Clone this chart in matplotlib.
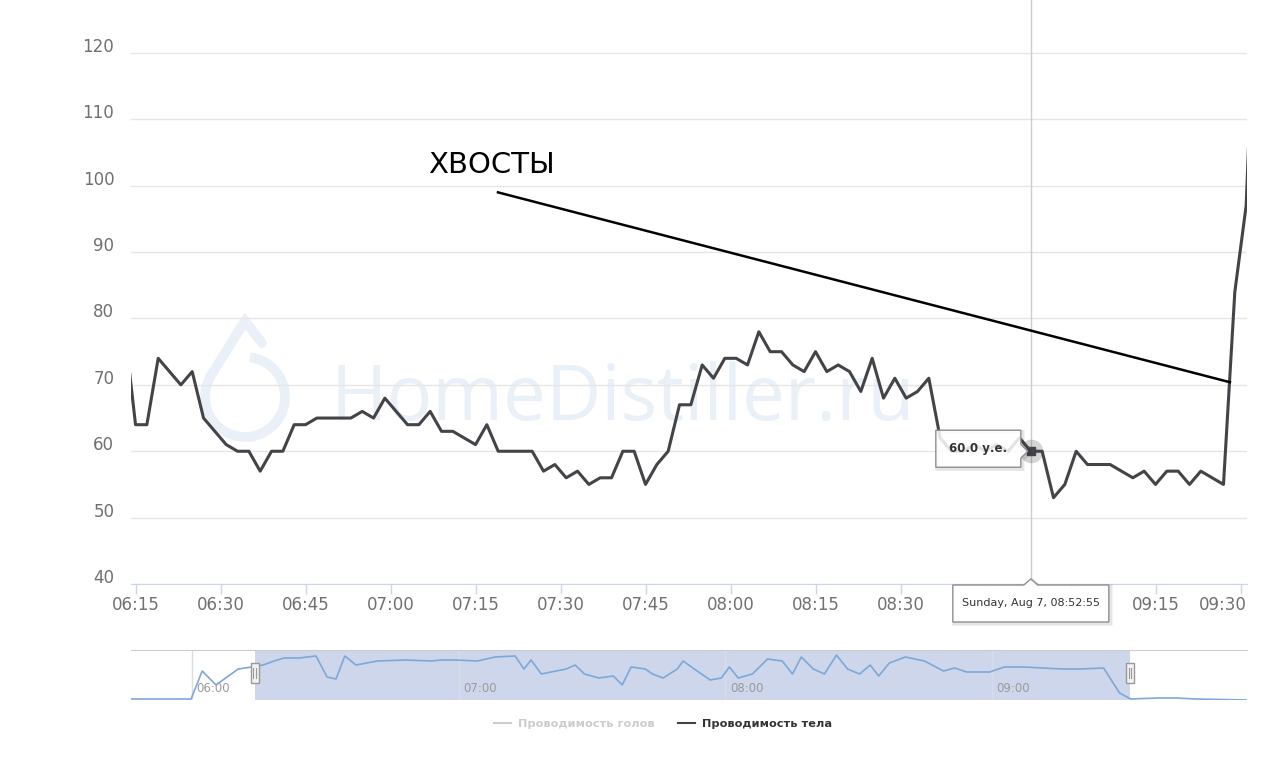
import numpy as np
import pandas as pd
import matplotlib
matplotlib.use("Agg")
import matplotlib.pyplot as plt
import matplotlib.dates as mdates
from matplotlib.patches import Arc, Polygon, Rectangle
from matplotlib.lines import Line2D
from matplotlib.transforms import ScaledTranslation

W, H = 1280, 759

# body conductivity, one reading every 2 minutes
body_start = "2016-08-07 06:12:55"
body_values = [79, 64, 64, 74, 72, 70, 72, 65, 63, 61, 60, 60, 57, 60, 60, 64, 64, 65, 65, 65,
               65, 66, 65, 68, 66, 64, 64, 66, 63, 63, 62, 61, 64, 60, 60, 60, 60, 57, 58, 56,
               57, 55, 56, 56, 60, 60, 55, 58, 60, 67, 67, 73, 71, 74, 74, 73, 78, 75, 75, 73,
               72, 75, 72, 73, 72, 69, 74, 68, 71, 68, 69, 71, 62, 60, 60, 61, 60, 61, 60, 62,
               60, 60, 53, 55, 60, 58, 58, 58, 57, 56, 57, 55, 57, 57, 55, 57, 56, 55, 84, 97, 140]

view_start = "2016-08-07 06:14:07"
view_end = "2016-08-07 09:31:04"
y_ticks = [40, 50, 60, 70, 80, 90, 100, 110, 120]
y_top = 127.98
x_ticks = ["06:15", "06:30", "06:45", "07:00", "07:15", "07:30", "07:45",
           "08:00", "08:15", "08:30", "08:45", "09:00", "09:15", "09:30"]
# 08:45 and 09:00 sit under the time tooltip
x_tick_labels = ["06:15", "06:30", "06:45", "07:00", "07:15", "07:30", "07:45",
                 "08:00", "08:15", "08:30", "", "", "09:15", "09:30"]

hover_time = "2016-08-07 08:52:55"
hover_value = 60.0
hover_value_text = "60.0 у.е."
hover_time_text = "Sunday, Aug 7, 08:52:55"

note_text = "ХВОСТЫ"
note_pos = ("2016-08-07 07:17:39", 103.1)
note_line_from = ("2016-08-07 07:18:53", 99.0)
note_line_to = ("2016-08-07 09:28:03", 70.4)

# navigator (whole session, minutes after 06:00)
nav_minutes = [-13.7, -0.2, 2.3, 5.4, 10.4, 13.5, 16.0, 18.5, 20.7, 24.1, 27.9, 30.4, 32.4,
               34.4, 36.9, 41.7, 48.2, 53.8, 56.1, 59.4, 64.2, 68.2, 72.7, 74.7, 76.3, 78.6,
               84.2, 86.2, 88.3, 91.6, 94.8, 96.8, 98.8, 102.0, 103.6, 106.0, 109.2, 110.5,
               113.0, 116.6, 119.1, 120.9, 122.9, 126.1, 129.5, 132.8, 135.1, 137.1, 139.8,
               142.3, 145.0, 147.5, 150.2, 152.6, 154.5, 156.9, 160.5, 164.8, 169.1, 171.6,
               174.3, 179.4, 182.8, 187.1, 191.4, 195.7, 199.9, 205.1, 208.7, 211.2, 217.3,
               221.5, 225.8, 237.4]
nav_level = [1, 1, 29, 15, 31, 33, 35, 39, 42, 42, 44, 23, 21, 44, 35, 39, 40, 39, 40, 40,
             39, 43, 44, 31, 40, 26, 31, 35, 26, 22, 24, 15, 33, 31, 26, 22, 31, 39, 31, 20,
             22, 33, 22, 26, 41, 39, 26, 43, 31, 26, 45, 31, 26, 35, 24, 37, 43, 39, 29, 32,
             28, 28, 33, 33, 32, 31, 31, 32, 7, 1, 2, 2, 1, 0]
nav_start = "2016-08-07 05:46:17"
nav_end = "2016-08-07 09:57:22"
nav_hours = ["06:00", "07:00", "08:00", "09:00"]

legend_labels = ["Проводимость голов", "Проводимость тела"]

day = "2016-08-07 "
times = pd.date_range(body_start, periods=len(body_values), freq="2min")
t = pd.Timestamp

fig = plt.figure(figsize=(W / 100, H / 100), dpi=100)
fig.patch.set_facecolor("white")

# background layer: watermark
bg = fig.add_axes([0, 0, 1, 1], zorder=0)
bg.set_xlim(0, W)
bg.set_ylim(H, 0)
bg.axis("off")
wm = "#e9f0f8"
bg.text(330, 420, "HomeDistiller.ru", fontsize=55, color=wm, family="Open Sans",
        ha="left", va="baseline")
bg.add_patch(Arc((245, 397), 80, 80, theta1=-443, theta2=-150, color=wm, lw=7))
bg.plot([210, 245, 262], [377, 321, 343], color=wm, lw=7, solid_joinstyle="miter",
        solid_capstyle="round")

# main chart
ax = fig.add_axes([131 / W, (H - 584) / H, 1116 / W, 584 / H], zorder=1)
ax.patch.set_alpha(0)
ax.plot(times, body_values, color="#434348", lw=2.2, solid_joinstyle="round", zorder=3)
ax.set_xlim(t(view_start), t(view_end))
ax.set_ylim(y_ticks[0], y_top)
ax.set_yticks(y_ticks)
ax.grid(axis="y", color="#e6e6e6", lw=1)
ax.set_axisbelow(True)
ax.tick_params(axis="y", length=0, pad=12, labelsize=12, labelcolor="#707070")
ax.set_xticks([t(day + s) for s in x_ticks])
ax.set_xticklabels(x_tick_labels)
ax.tick_params(axis="x", length=7.2, width=1, color="#ccd6eb", pad=1.5,
               labelsize=12, labelcolor="#707070")
for s in ["top", "left", "right"]:
    ax.spines[s].set_visible(False)
ax.spines["bottom"].set_color("#ccd6eb")
for lbl in ax.get_yticklabels():
    lbl.set_transform(lbl.get_transform() + ScaledTranslation(0, 0.08, fig.dpi_scale_trans))
last = ax.get_xticklabels()[-1]
last.set_horizontalalignment("right")
last.set_transform(last.get_transform() + ScaledTranslation(0.06, 0, fig.dpi_scale_trans))

ax.axvline(t(hover_time), color="#cccccc", lw=1, zorder=2)
ax.plot([t(hover_time)], [hover_value], "o", ms=17, color="#434348", alpha=0.22,
        mec="none", zorder=4)
ax.plot([t(hover_time)], [hover_value], "s", ms=6, color="#434348", zorder=5)

ax.plot([t(note_line_from[0]), t(note_line_to[0])], [note_line_from[1], note_line_to[1]],
        color="black", lw=1.8, zorder=6, clip_on=False)
ax.text(t(note_pos[0]), note_pos[1], note_text, fontsize=21, color="black",
        ha="center", va="center", zorder=6)

# navigator
nav = fig.add_axes([131 / W, (H - 700) / H, 1116 / W, 50 / H], zorder=1)
nav.patch.set_alpha(0)
nav_times = pd.Timestamp(day + "06:00") + pd.to_timedelta(nav_minutes, unit="min")
nav.set_xlim(t(nav_start), t(nav_end))
nav.set_ylim(0, 50)
nav.axvspan(t(view_start), t(view_end), color="#cdd6ea", lw=0, zorder=0)
for h in nav_hours:
    nav.axvline(t(day + h), color="#d8dce6", lw=1, zorder=1)
    nav.text(t(day + h) + pd.Timedelta(minutes=1), 0.22, h, fontsize=8.5, color="#9a9a9a",
             ha="left", va="center", transform=nav.get_xaxis_transform(), zorder=1)
nav.plot(nav_times, nav_level, color="#7ea8d8", lw=1.2, zorder=2)
nav.set_xticks([])
nav.set_yticks([])
for s in ["left", "right", "bottom"]:
    nav.spines[s].set_visible(False)
nav.spines["top"].set_color("#cccccc")

# overlay: tooltips and navigator handles (display pixels)
top = fig.add_axes([0, 0, 1, 1], zorder=5)
top.set_xlim(0, W)
top.set_ylim(0, H)
top.axis("off")

hx, hy = ax.transData.transform((mdates.date2num(t(hover_time)), hover_value))


def callout(pts, alpha):
    sh = Polygon([(x + 1.5, y - 1.5) for x, y in pts], closed=True, fc="none",
                 ec="black", alpha=0.1, lw=3)
    top.add_patch(sh)
    top.add_patch(Polygon(pts, closed=True, fc=(1, 1, 1, alpha), ec="#8f8f8f", lw=1))


x0, x1, y0, y1 = hx - 95, hx - 10, hy - 16, hy + 21
callout([(x0, y1), (x1, y1), (x1, hy + 7), (hx - 3, hy), (x1, hy - 7), (x1, y0), (x0, y0)], 0.85)
top.text((x0 + x1) / 2, (y0 + y1) / 2, hover_value_text, fontsize=8.5, weight="bold",
         color="#333333", ha="center", va="center")

ab = ax.get_position().y0 * H
x0, x1, y0, y1 = hx - 78, hx + 78, ab - 38, ab - 1
callout([(x0, y1), (hx - 7, y1), (hx, y1 + 6), (hx + 7, y1), (x1, y1), (x1, y0), (x0, y0)], 0.95)
top.text(hx, (y0 + y1) / 2, hover_time_text, fontsize=8, color="#333333",
         ha="center", va="center")

for edge in [view_start, view_end]:
    ex = nav.transData.transform((mdates.date2num(t(edge)), 0))[0]
    cy = H - 673
    top.add_patch(Rectangle((ex - 4, cy - 10), 8, 20, fc="#f2f2f2", ec="#999999", lw=1))
    top.plot([ex - 1.3, ex - 1.3], [cy - 5, cy + 5], color="#999999", lw=0.8)
    top.plot([ex + 1.3, ex + 1.3], [cy - 5, cy + 5], color="#999999", lw=0.8)

# legend
handles = [Line2D([], [], color="#cccccc", lw=1.5), Line2D([], [], color="#434348", lw=1.5)]
leg = fig.legend(handles, legend_labels, loc="center", bbox_to_anchor=(663 / W, 1 - 724 / H),
                 ncol=2, frameon=False, handlelength=1.5, handletextpad=0.6,
                 columnspacing=2.1, prop=dict(weight="bold", size=8.2))
leg.get_texts()[0].set_color("#cccccc")
leg.get_texts()[1].set_color("#333333")

fig.savefig("out.png", dpi=100)
